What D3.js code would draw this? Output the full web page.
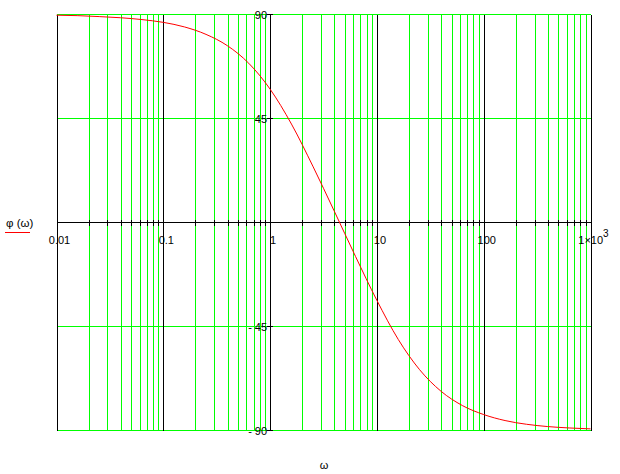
<!DOCTYPE html>
<html><head><meta charset="utf-8">
<script src="https://cdn.jsdelivr.net/npm/d3@7"></script>
<style>body{margin:0;background:#fff}svg{display:block}text{font-family:"Liberation Sans",Arial,sans-serif;fill:#000}</style>
</head><body>
<svg id="c" width="620" height="474"></svg>
<script>
const omega = [0.01,0.01585,0.02512,0.03981,0.0631,0.1,0.1585,0.2512,0.3981,0.631,1,1.585,2.512,3.981,6.31,10,15.85,25.12,39.81,63.1,100,158.5,251.2,398.1,631,1000];
const phi = [89.7,89.5,89.1,88.6,87.8,86.6,84.6,81.4,76.5,68.9,57.7,42.6,24.4,5.0,-14.7,-33.7,-50.6,-63.7,-73.0,-79.2,-83.1,-85.7,-87.3,-88.3,-88.9,-89.3];
const xTickValues = [0.01,0.1,1,10,100,1000];
const xTickLabels = ["0.01","0.1","1","10","100","1×10"];
const yTickValues = [90,45,-45,-90];
const yTickLabels = ["90","45","- 45","- 90"];

const svg = d3.select("#c");
const x = d3.scaleLog().domain([0.01,1000]).range([56.5,590.5]);
const y = d3.scaleLinear().domain([-90,90]).range([430.5,14.5]);
const green = "#00ff00";
const g = svg.append("g").attr("shape-rendering","crispEdges");
const isDecade = t => Math.abs(Math.log10(t) - Math.round(Math.log10(t))) < 1e-9;
const all = x.ticks();
g.selectAll(".vg").data(all.filter(t=>!isDecade(t))).enter().append("line")
 .attr("x1",d=>Math.round(x(d))+0.5).attr("x2",d=>Math.round(x(d))+0.5).attr("y1",y(90)).attr("y2",y(-90))
 .attr("stroke",green).attr("stroke-width",1);
g.selectAll(".hg").data(yTickValues).enter().append("line")
 .attr("x1",x(0.01)).attr("x2",x(1000)).attr("y1",d=>y(d)).attr("y2",d=>y(d))
 .attr("stroke",green).attr("stroke-width",1);
g.selectAll(".vb").data(xTickValues).enter().append("line")
 .attr("x1",d=>Math.round(x(d))+0.5).attr("x2",d=>Math.round(x(d))+0.5).attr("y1",y(90)).attr("y2",y(-90))
 .attr("stroke","#000").attr("stroke-width",1);
g.append("line").attr("x1",x(0.01)).attr("x2",x(1000)).attr("y1",y(0)).attr("y2",y(0)).attr("stroke","#000");
g.selectAll(".xt").data(all).enter().append("line")
 .attr("x1",d=>Math.round(x(d))+0.5).attr("x2",d=>Math.round(x(d))+0.5).attr("y1",y(0)-3).attr("y2",y(0)+3)
 .attr("stroke","#000");
g.selectAll(".yt").data(yTickValues).enter().append("line")
 .attr("x1",x(1)-3).attr("x2",x(1)+3).attr("y1",d=>y(d)).attr("y2",d=>y(d)).attr("stroke","#000");

svg.append("path").datum(omega.map((w,i)=>[w,phi[i]]))
 .attr("fill","none").attr("stroke","#ff0000").attr("stroke-width",1)
 .attr("d",d3.line().x(d=>x(d[0])).y(d=>y(d[1])).curve(d3.curveMonotoneX));

const xl = svg.selectAll(".xl").data(xTickValues).enter().append("text")
 .attr("x",d=>x(d)+3).attr("y",244).attr("text-anchor","middle").attr("font-size",11)
 .text((d,i)=>xTickLabels[i]);
xl.filter((d,i)=>i===xTickLabels.length-1).append("tspan").attr("dy",-7).attr("font-size",10).text("3");
svg.selectAll(".yl").data(yTickValues).enter().append("text")
 .attr("x",x(1)-3).attr("y",d=>y(d)+4).attr("text-anchor","end").attr("font-size",11)
 .text((d,i)=>yTickLabels[i]);
svg.append("text").attr("x",6).attr("y",227).attr("font-size",11.5).text("φ (ω)");
svg.append("line").attr("x1",5).attr("x2",30).attr("y1",232.5).attr("y2",232.5).attr("stroke","#ff0000").attr("shape-rendering","crispEdges");
svg.append("text").attr("x",324).attr("y",469).attr("text-anchor","middle").attr("font-size",11).text("ω");
</script>
</body></html>
